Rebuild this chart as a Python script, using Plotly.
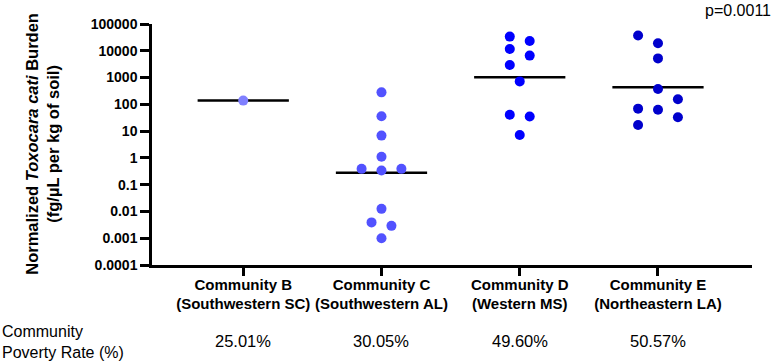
import plotly.graph_objects as go

# ---- data ----
categories = ["Community B<br>(Southwestern SC)", "Community C<br>(Southwestern AL)",
              "Community D<br>(Western MS)", "Community E<br>(Northeastern LA)"]
poverty_rates = ["25.01%", "30.05%", "49.60%", "50.57%"]
colors = ["#8080FF", "#5252FF", "#0000FF", "#0000CC"]

b_values = [138]
b_slots = [0]
c_values = [280, 36, 6.8, 1.1, 0.39, 0.34, 0.39, 0.0125, 0.0039, 0.0029, 0.001]
c_slots = [0, 0, 0, 0, -2, 0, 2, 0, -1, 1, 0]
d_values = [33800, 23300, 11700, 6600, 2950, 720, 41, 35, 7.2]
d_slots = [-1, 1, -1, 1, -1, 0, -1, 1, 0]
e_values = [37400, 19000, 5200, 375, 154, 69, 63, 33, 17]
e_slots = [-2, 0, 0, 0, 2, -2, 0, 2, -2]
medians = [138, 0.28, 1020, 430]

y_tickvals = [1e-4, 1e-3, 1e-2, 1e-1, 1, 10, 100, 1000, 10000, 100000]
y_ticktext = ["0.0001", "0.001", "0.01", "0.1", "1", "10", "100", "1000", "10000", "100000"]

# ---- styling ----
FONT = "Liberation Sans, Arial, sans-serif"
SLOT = 0.072      # horizontal jitter step (category units)
HALF = 0.33       # half width of median line

groups = [(b_values, b_slots), (c_values, c_slots), (d_values, d_slots), (e_values, e_slots)]

fig = go.Figure()
for i, (vals, slots) in enumerate(groups):
    fig.add_trace(go.Scatter(
        x=[i - HALF, i + HALF], y=[medians[i], medians[i]], mode="lines",
        line=dict(color="black", width=2.5), showlegend=False, hoverinfo="skip"))
for i, (vals, slots) in enumerate(groups):
    fig.add_trace(go.Scatter(
        x=[i + s * SLOT for s in slots], y=vals, mode="markers",
        marker=dict(color=colors[i], size=10, line=dict(width=0)),
        showlegend=False))

fig.update_xaxes(
    range=[-0.66, 3.68], tickmode="array", tickvals=list(range(len(categories))),
    ticktext=["<b>" + c + "</b>" for c in categories],
    showline=True, linecolor="black", linewidth=2.5, ticks="outside",
    ticklen=8, tickwidth=2.5, tickcolor="black", showgrid=False, zeroline=False,
    ticklabelstandoff=-4,
    tickfont=dict(family=FONT, size=15, color="black"))
fig.update_yaxes(
    type="log", range=[-4, 5], tickmode="array", tickvals=y_tickvals,
    ticktext=["<b>" + t + "</b>" for t in y_ticktext],
    showline=True, linecolor="black", linewidth=2.5, ticks="outside",
    ticklen=9, tickwidth=2.5, tickcolor="black", showgrid=False, zeroline=False,
    tickfont=dict(family=FONT, size=14, color="black"))

annotations = [
    dict(text="<b>Normalized <i>Toxocara cati</i> Burden</b><br><b>(fg/µL per kg of soil)</b>",
         xref="paper", yref="paper", x=-0.183, y=0.504, xanchor="center", yanchor="middle",
         textangle=-90, showarrow=False, font=dict(family=FONT, size=16.5, color="black")),
    dict(text="p=0.0011", xref="paper", yref="paper", x=1.035, y=1.058,
         xanchor="right", yanchor="middle", showarrow=False,
         font=dict(family=FONT, size=16, color="black")),
    dict(text="Community<br>Poverty Rate (%)", xref="paper", yref="paper", x=-0.2533, y=-0.32,
         xanchor="left", yanchor="middle", align="left", showarrow=False,
         font=dict(family=FONT, size=16, color="black")),
]
for i, r in enumerate(poverty_rates):
    annotations.append(dict(text=r, xref="x", yref="paper", x=i, y=-0.315,
                            xanchor="center", yanchor="middle", showarrow=False,
                            font=dict(family=FONT, size=16.5, color="black")))

fig.update_layout(
    width=773, height=364, margin=dict(l=152, r=21, t=24, b=99),
    plot_bgcolor="white", paper_bgcolor="white", annotations=annotations,
    font=dict(family=FONT, color="black"))

fig.write_html("out.html", config={"displayModeBar": False},
               post_script="document.body.style.margin='0';document.body.style.overflow='hidden';")
